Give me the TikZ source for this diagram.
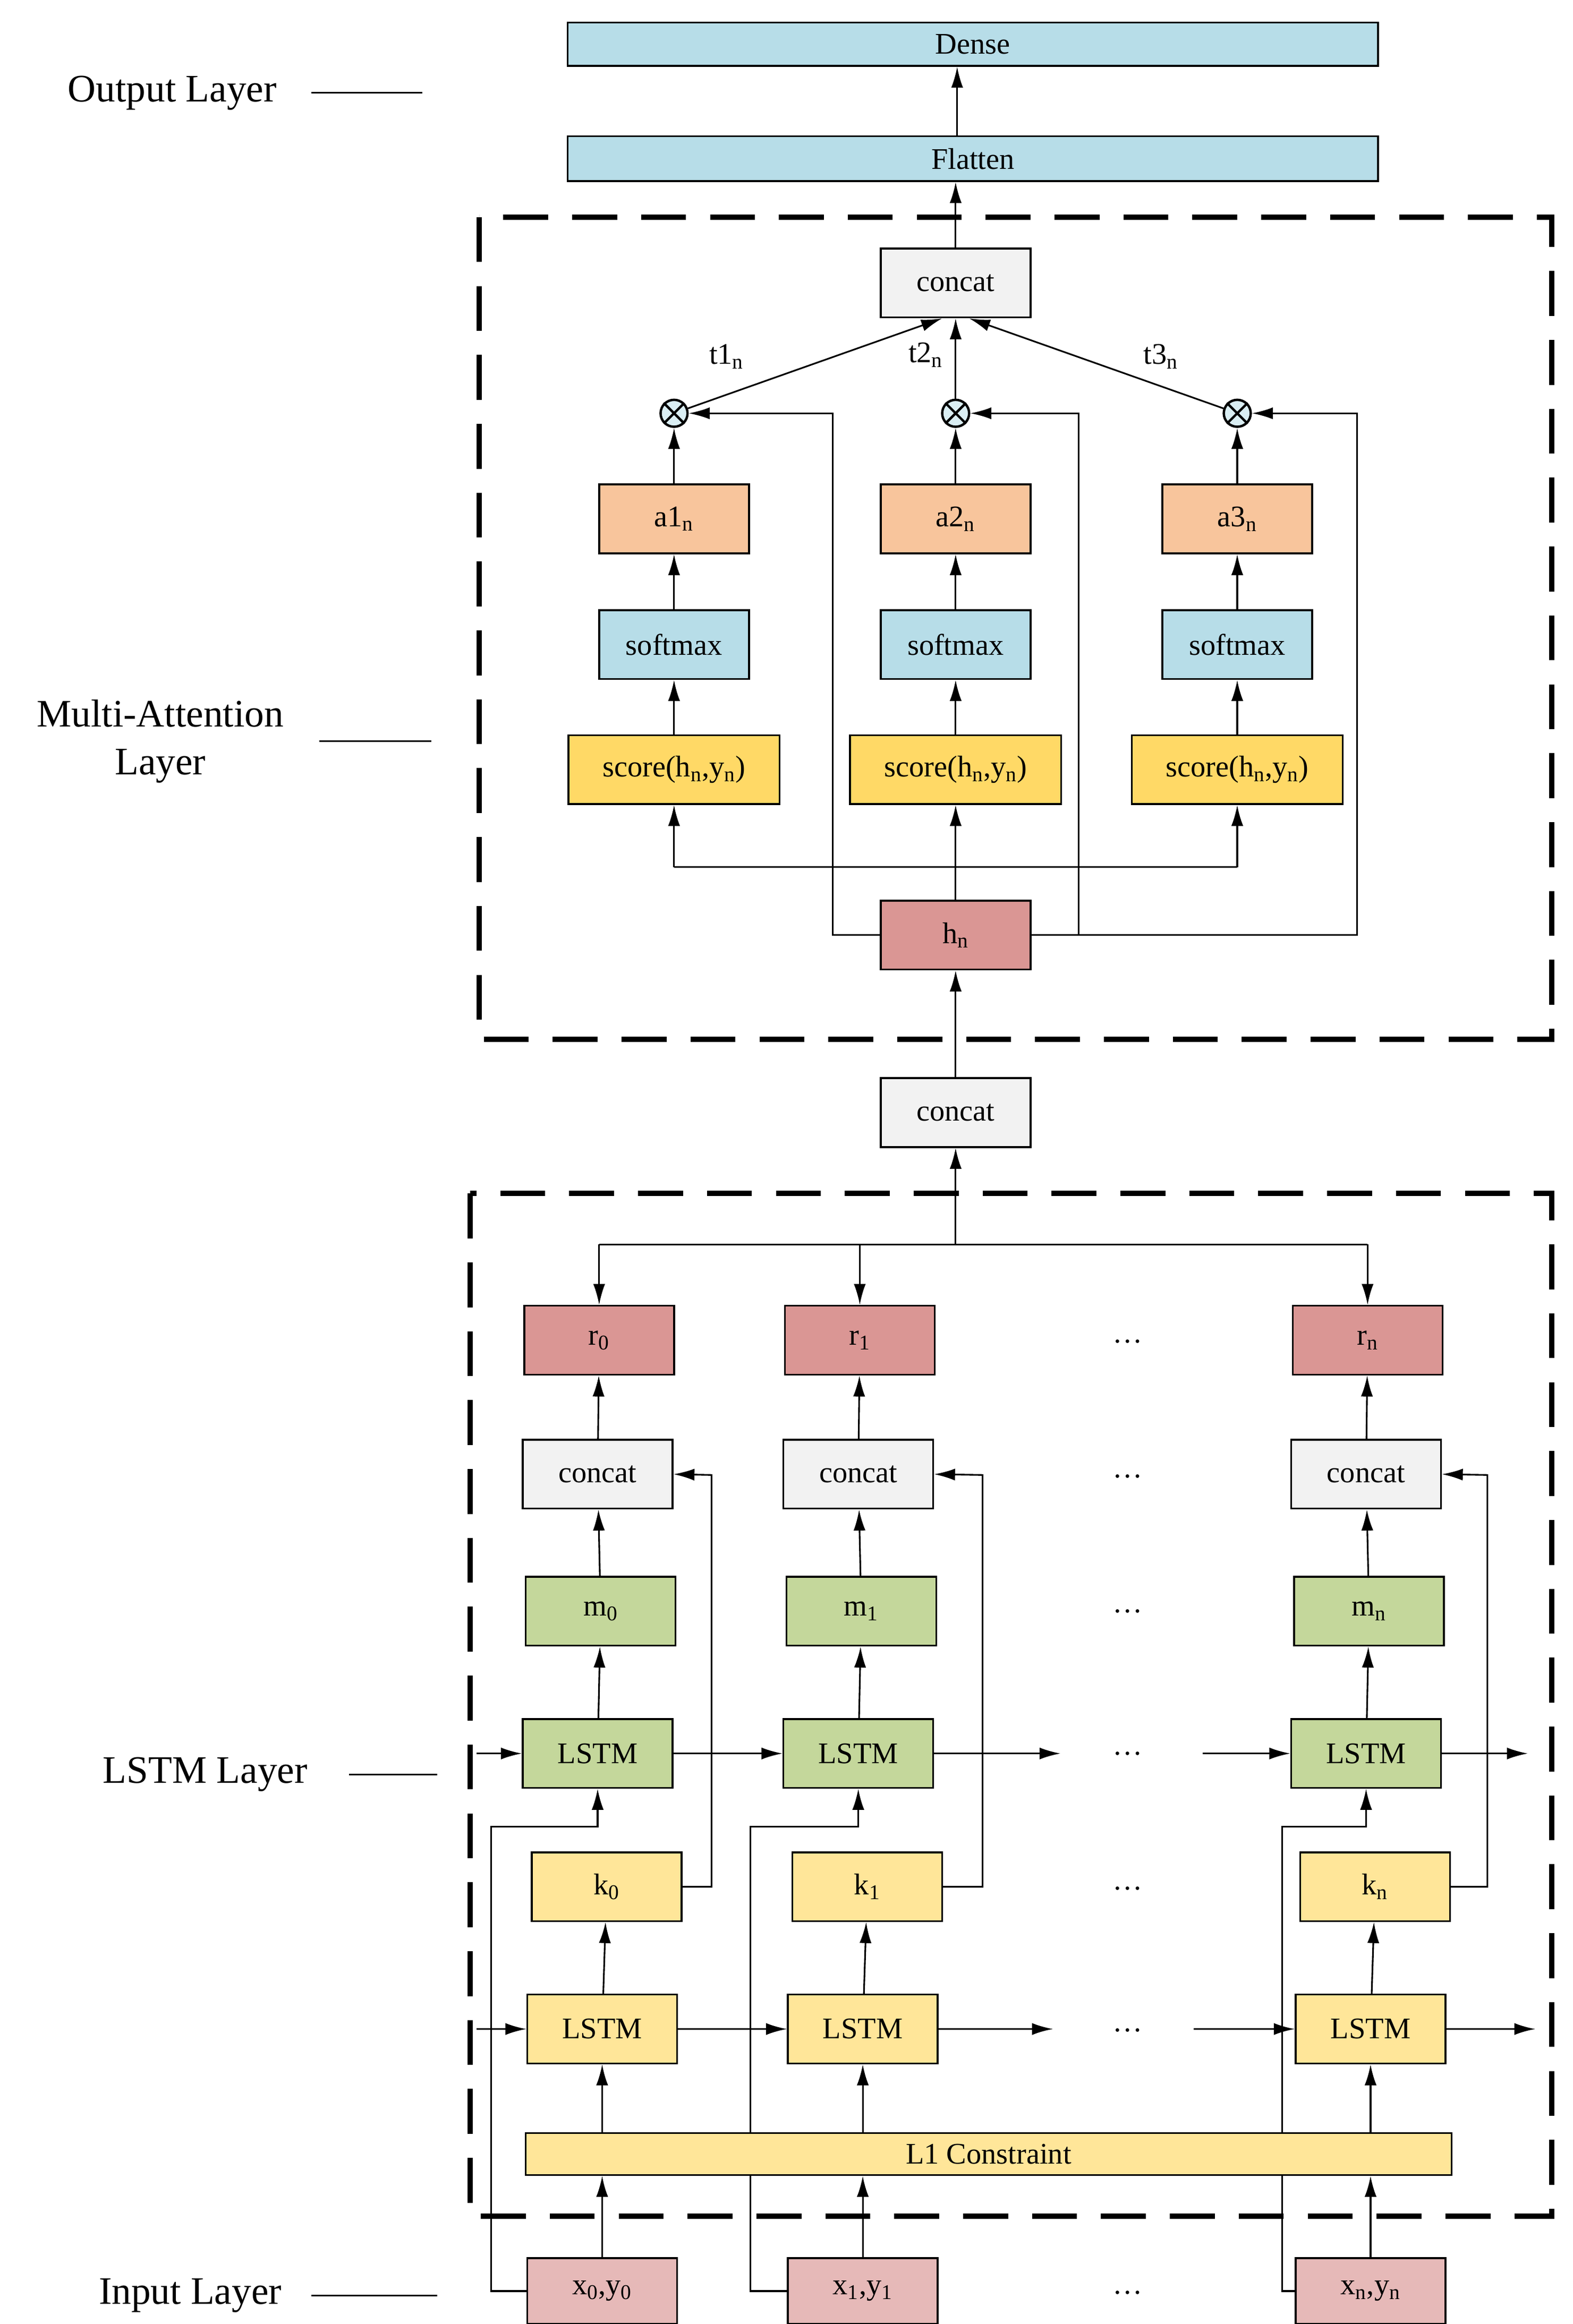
\documentclass[tikz,border=0pt]{standalone}
\usepackage{fontspec}
\setmainfont{Liberation Serif}
\usetikzlibrary{arrows.meta}
\newcommand{\mysb}[1]{\textsubscript{#1}}
\definecolor{cblue}{HTML}{B7DDE8}
\definecolor{corange}{HTML}{F8C59C}
\definecolor{cscore}{HTML}{FFD966}
\definecolor{cpy}{HTML}{FFE699}
\definecolor{cgreen}{HTML}{C4D79B}
\definecolor{cred}{HTML}{DA9694}
\definecolor{cin}{HTML}{E6B9B8}
\definecolor{cgray}{HTML}{F2F2F2}
\definecolor{cot}{HTML}{DAEEF3}
\begin{document}
\begin{tikzpicture}[x=1pt,y=-1pt,
  box/.style={draw,line width=1.2pt,minimum width=100pt,minimum height=46pt,inner sep=0pt,font=\fontsize{20}{22}\selectfont},
  arr/.style={line width=1.1pt,-{Latex[length=14pt,width=8pt]}},
  ln/.style={line width=1.1pt},
  dbox/.style={line width=3.5pt,dash pattern=on 30pt off 16pt},
  lab/.style={font=\fontsize{26}{32}\selectfont,align=center},
  ot/.style={circle,draw,line width=1.6pt,fill=cot,minimum size=18pt,inner sep=0pt}]
\useasboundingbox (0,0) rectangle (1050,1552);
% Output
\node[box,fill=cblue,minimum width=541pt,minimum height=29pt] (dense) at (649.5,29.5) {Dense};
\node[box,fill=cblue,minimum width=541pt,minimum height=30pt] (flat) at (649.5,106) {Flatten};
\draw[arr] (flat.north -| 639,0) -- (dense.south -| 639,0);
\node[lab] (lo) at (115,62) {Output Layer};
\coordinate (lo1) at (208,62); \coordinate (lo2) at (282,62);
\draw[ln] (lo1) -- (lo2);
% Multi-attention box
\draw[dbox] (320,145) rectangle (1036,694);
\node[box,fill=cgray] (cc) at (638,189) {concat};
\draw[arr] (cc.north) -- (flat.south -| cc.north);
\foreach \i/\x in {1/450,2/638,3/826}{
  \node[box,fill=cscore,minimum width=141pt] (s\i) at (\x,514) {score(h\mysb{n},y\mysb{n})};
  \node[box,fill=cblue] (sm\i) at (\x,430.5) {softmax};
  \node[box,fill=corange] (a\i) at (\x,346.5) {a\i\mysb{n}};
  \node[ot] (o\i) at (\x,276) {};
  \draw[line width=1.6pt] (o\i.north west) -- (o\i.south east) (o\i.north east) -- (o\i.south west);
  \draw[arr] (s\i) -- (sm\i);
  \draw[arr] (sm\i) -- (a\i);
  \draw[arr] (a\i) -- (o\i);
}
\draw[arr] (o1) -- ([xshift=-9pt]cc.south);
\draw[arr] (o2) -- (cc.south);
\draw[arr] (o3) -- ([xshift=9pt]cc.south);
\node[font=\fontsize{20}{22}\selectfont] (t1) at (485,238) {t1\mysb{n}};
\node[font=\fontsize{20}{22}\selectfont] (t2) at (618,237) {t2\mysb{n}};
\node[font=\fontsize{20}{22}\selectfont] (t3) at (775,238) {t3\mysb{n}};
\node[box,fill=cred] (hn) at (638,624.5) {h\mysb{n}};
\draw[arr] (hn) -- (s2);
\coordinate (hl) at (450,579); \coordinate (hr) at (826,579);
\draw[ln] (hl) -- (hr);
\draw[arr] (hl) -- (s1); \draw[arr] (hr) -- (s3);
\coordinate (c1) at (556,276); \coordinate (c2) at (720,276); \coordinate (c3) at (906,276);
\draw[arr] (hn.west) -| (c1) -- (o1);
\draw[arr] (hn.east) -| (c2) -- (o2);
\draw[arr] (hn.east) -| (c3) -- (o3);
\node[lab] (lm) at (107,495) {Multi-Attention\\Layer};
\coordinate (lm1) at (213,495); \coordinate (lm2) at (288,495);
\draw[ln] (lm1) -- (lm2);
% middle concat
\node[box,fill=cgray] (cm) at (638,743) {concat};
\draw[arr] (cm) -- (hn);
% LSTM box
\draw[dbox] (314,797) rectangle (1036,1480);
\coordinate (rj) at (638,831); \coordinate (rl) at (400,831); \coordinate (rr) at (913,831);
\draw[arr] (rj) -- (cm);
\draw[ln] (rl) -- (rr);
\foreach \i/\x/\lab/\fx/\gx in {0/400/0/328/475,1/574/1/501/656,n/913/n/856/993}{
  \node[box,fill=cred] (r\i) at (\x,895) {r\mysb{\lab}};
  \node[box,fill=cgray] (cn\i) at (\x-1,984.5) {concat};
  \node[box,fill=cgreen] (m\i) at (\x+1,1076) {m\mysb{\lab}};
  \node[box,fill=cgreen] (lg\i) at (\x-1,1171) {LSTM};
  \node[box,fill=cpy] (k\i) at (\x+5,1260) {k\mysb{\lab}};
  \node[box,fill=cpy] (ly\i) at (\x+2,1355) {LSTM};
  \node[box,fill=cin,minimum height=44pt] (x\i) at (\x+2,1530) {x\mysb{\lab},y\mysb{\lab}};
  \coordinate (rt\i) at (\x,831);
  \draw[arr] (rt\i) -- (r\i);
  \draw[arr] (cn\i) -- (r\i);
  \draw[arr] (m\i) -- (cn\i);
  \draw[arr] (lg\i) -- (m\i);
  \draw[arr] (ly\i) -- (k\i);
  \coordinate (f\i) at (\fx,1220);
  \draw[arr] (x\i.west) -| (f\i) -| (lg\i.south);
  \coordinate (g\i) at (\gx,985);
  \draw[arr] (k\i.east) -| (g\i) -- (cn\i.east);
}
\node[box,fill=cpy,minimum width=618pt,minimum height=28pt] (l1) at (660,1438.5) {L1 Constraint};
\foreach \i in {0,1,n}{
  \draw[arr] (x\i) -- (ly\i.south |- l1.south);
  \draw[arr] (ly\i.south |- l1.north) -- (ly\i);
}
% horizontal LSTM connections
\coordinate (ga) at (318,1171); \coordinate (gb) at (708,1171); \coordinate (gc) at (803,1171); \coordinate (gd) at (1020,1171);
\draw[arr] (ga) -- (lg0); \draw[arr] (lg0) -- (lg1); \draw[arr] (lg1) -- (gb);
\draw[arr] (gc) -- (lgn); \draw[arr] (lgn) -- (gd);
\coordinate (ya) at (318,1355); \coordinate (yb) at (703,1355); \coordinate (yc) at (797,1355); \coordinate (yd) at (1025,1355);
\draw[arr] (ya) -- (ly0); \draw[arr] (ly0) -- (ly1); \draw[arr] (ly1) -- (yb);
\draw[arr] (yc) -- (lyn); \draw[arr] (lyn) -- (yd);
% dots
\foreach \y/\nm in {900/d1,990/d2,1080/d3,1175/d4,1265/d5,1360/d6,1535/d7}{
  \node[font=\fontsize{20}{22}\selectfont] (\nm) at (753,\y-4) {\dots};
}
\node[lab] (ll) at (137,1185) {LSTM Layer};
\coordinate (ll1) at (233,1185); \coordinate (ll2) at (292,1185);
\draw[ln] (ll1) -- (ll2);
\node[lab] (li) at (127,1533) {Input Layer};
\coordinate (li1) at (208,1533); \coordinate (li2) at (292,1533);
\draw[ln] (li1) -- (li2);
\end{tikzpicture}
\end{document}
